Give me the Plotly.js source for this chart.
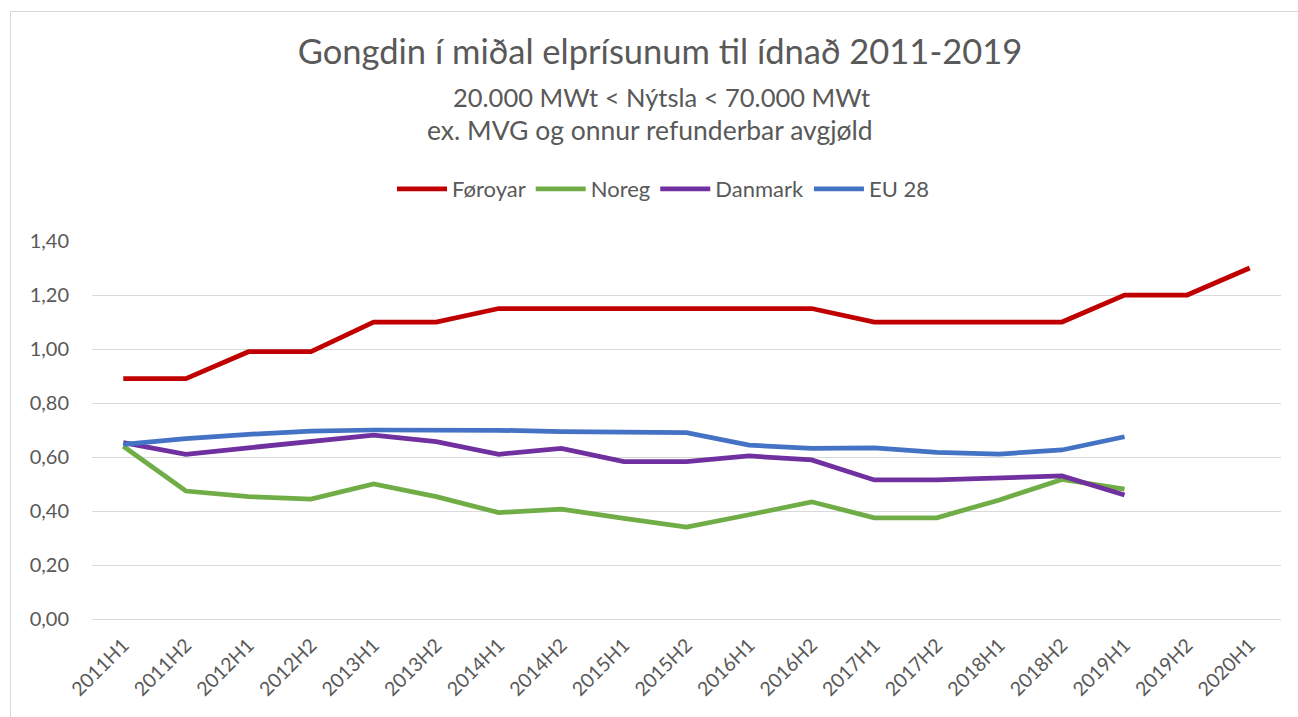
<!DOCTYPE html>
<html>
<head>
<meta charset="utf-8">
<script src="https://cdn.plot.ly/plotly-3.0.1.min.js"></script>
<style>
html,body{margin:0;padding:0;background:#fff;}
#chart{width:1298px;height:717px;position:absolute;left:0;top:0;}
#frame{position:absolute;left:10px;top:11px;width:1400px;height:800px;border:1px solid #d9d9d9;pointer-events:none;}
</style>
</head>
<body>
<div id="chart"></div>
<div id="frame"></div>
<script>
const categories = ["2011H1","2011H2","2012H1","2012H2","2013H1","2013H2","2014H1","2014H2","2015H1","2015H2","2016H1","2016H2","2017H1","2017H2","2018H1","2018H2","2019H1","2019H2","2020H1"];
const foroyar = [0.89,0.89,0.99,0.99,1.10,1.10,1.15,1.15,1.15,1.15,1.15,1.15,1.10,1.10,1.10,1.10,1.20,1.20,1.30];
const noreg   = [0.64,0.474,0.453,0.444,0.50,0.453,0.394,0.407,0.373,0.340,0.386,0.434,0.375,0.375,0.441,0.517,0.481];
const danmark = [0.653,0.61,0.634,0.657,0.681,0.657,0.61,0.632,0.583,0.583,0.604,0.589,0.515,0.515,0.522,0.53,0.459];
const eu28    = [0.647,0.668,0.684,0.696,0.70,0.70,0.699,0.694,0.694,0.690,0.644,0.632,0.634,0.617,0.611,0.626,0.675];
const seriesNames = ["Føroyar","Noreg","Danmark","EU 28"];
const yTicks = [0,0.2,0.4,0.6,0.8,1.0,1.2,1.4];

const colors = ["#C00000","#70AD47","#7030A0","#4472C4"];
const allData = [foroyar, noreg, danmark, eu28];
const traces = allData.map((vals,i)=>({
  type:"scatter", mode:"lines", name:seriesNames[i],
  x:categories.slice(0, vals.length), y:vals,
  line:{color:colors[i], width:4.75, shape:"linear"},
  hoverinfo:"x+y+name"
}));

const fontFam = "Lato, 'Open Sans', sans-serif";
const layout = {
  width:1298, height:717,
  paper_bgcolor:"#fff", plot_bgcolor:"#fff",
  margin:{l:92, r:17, t:241, b:98},
  separators:", ",
  font:{family:fontFam, color:"#595959"},
  title:{text:"Gongdin í miðal elprísunum til ídnað 2011-2019", font:{size:34.5, color:"#595959", family:fontFam},
         x:(660-92)/1189, xref:"paper", xanchor:"center", y:1-52/717, yref:"container", yanchor:"middle"},
  annotations:[
    {text:"20.000 MWt &lt; Nýtsla &lt; 70.000 MWt", xref:"paper", yref:"paper", x:(661-92)/1189, y:(619-97)/378, xanchor:"center", yanchor:"middle", showarrow:false, font:{size:25.5, color:"#595959", family:fontFam}},
    {text:"ex. MVG og onnur refunderbar avgjøld", xref:"paper", yref:"paper", x:(650-92)/1189, y:(619-130)/378, xanchor:"center", yanchor:"middle", showarrow:false, font:{size:26.5, color:"#595959", family:fontFam}}
  ],
  showlegend:true,
  legend:{orientation:"h", x:(663-92)/1189, xanchor:"center", y:(619-189)/378, yanchor:"middle",
          font:{size:22, color:"#595959", family:fontFam}, itemwidth:50, traceorder:"normal"},
  xaxis:{type:"category", categoryorder:"array", categoryarray:categories, range:[-0.5,18.5],
         showgrid:false, showline:false, zeroline:false, ticks:"", tickangle:-45,
         tickfont:{size:19.5, color:"#595959", family:fontFam}, ticklabelstandoff:10, fixedrange:true},
  yaxis:{range:[0,1.4], tickvals:yTicks, tickformat:".2f", showgrid:true, gridcolor:"#d9d9d9", gridwidth:1,
         zeroline:true, zerolinecolor:"#d9d9d9", zerolinewidth:1, showline:false, ticks:"",
         tickfont:{size:20, color:"#595959", family:fontFam}, ticklabelstandoff:22, fixedrange:true}
};
Plotly.newPlot("chart", traces, layout, {displayModeBar:false, staticPlot:true});
</script>
</body>
</html>
